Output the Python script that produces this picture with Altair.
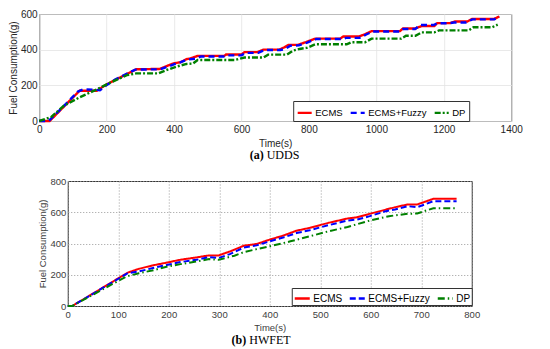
import altair as alt
import pandas as pd

series = ["ECMS", "ECMS+Fuzzy", "DP"]
colors = ["#ff0000", "#0000ff", "#008000"]

# ---- (a) UDDS ----
udds_ecms_t = [0, 31, 120, 171, 199, 222, 288, 358, 381, 400, 419, 437, 447, 470, 549, 554, 600, 609, 647,
               665, 712, 726, 740, 767, 791, 819, 893, 902, 949, 967, 986, 1070, 1079, 1116, 1135, 1172,
               1181, 1219, 1233, 1270, 1284, 1349, 1365]
udds_ecms_v = [0, 0, 170, 170, 204, 227, 290, 292, 310, 324, 329, 347, 350, 365, 365, 373, 373, 386, 386,
               400, 400, 412, 427, 427, 442, 462, 462, 474, 474, 487, 504, 504, 519, 519, 533, 533,
               549, 549, 558, 558, 572, 572, 586]
udds_fuzzy_t = [0, 28, 80, 115, 130, 165, 180, 199, 225, 285, 360, 385, 405, 420, 440, 465, 480, 550, 560,
                600, 612, 650, 668, 715, 730, 745, 770, 795, 822, 900, 910, 950, 970, 990, 1070, 1080,
                1115, 1130, 1170, 1180, 1215, 1230, 1265, 1285, 1350, 1365]
udds_fuzzy_v = [0, 0, 97, 165, 177, 176, 172, 200, 232, 288, 290, 307, 322, 330, 345, 350, 362, 362, 368,
                368, 382, 382, 398, 398, 404, 422, 424, 440, 460, 460, 466, 466, 485, 502, 502, 516,
                516, 538, 538, 548, 548, 552, 552, 570, 570, 584]
udds_dp_t = [0, 36, 73, 120, 166, 204, 260, 288, 353, 381, 409, 437, 456, 470, 581, 609, 665, 679, 735,
             753, 772, 795, 819, 912, 926, 967, 986, 1074, 1088, 1116, 1135, 1172, 1186, 1274, 1288,
             1344, 1360]
udds_dp_v = [0, 23, 85, 133, 173, 209, 257, 267, 267, 288, 306, 320, 322, 342, 342, 356, 356, 372, 372,
             395, 404, 411, 430, 430, 442, 442, 462, 462, 478, 478, 497, 497, 508, 508, 526,
             526, 540]

# ---- (b) HWFET ----
hw_ecms_t = [0, 9, 119, 141, 167, 198, 223, 255, 280, 299, 321, 349, 374, 400, 428, 453, 479, 516, 554,
             573, 598, 630, 648, 673, 692, 724, 770]
hw_ecms_v = [0, 0, 214, 238, 259, 279, 296, 311, 324, 324, 349, 386, 397, 425, 452, 482, 500, 532, 560,
             568, 590, 617, 632, 650, 650, 686, 686]
hw_fuzzy_t = [0, 9, 113, 119, 141, 167, 198, 223, 255, 280, 299, 321, 349, 374, 400, 428, 453, 479, 516,
              554, 573, 598, 630, 648, 673, 692, 724, 770]
hw_fuzzy_v = [0, 0, 199, 210, 221, 242, 264, 281, 296, 313, 307, 332, 375, 388, 414, 440, 467, 485, 517,
              547, 553, 575, 607, 618, 639, 632, 671, 671]
hw_dp_t = [0, 9, 116, 141, 167, 198, 223, 255, 280, 299, 330, 349, 374, 400, 441, 479, 516, 554, 598,
           636, 673, 692, 724, 770]
hw_dp_v = [0, 0, 189, 210, 227, 253, 268, 285, 300, 296, 322, 345, 364, 382, 414, 446, 478, 506, 547,
           575, 590, 592, 626, 626]

udds_x_ticks = [0, 200, 400, 600, 800, 1000, 1200, 1400]
udds_y_ticks = [0, 200, 400, 600]
hw_x_ticks = [0, 100, 200, 300, 400, 500, 600, 700, 800]
hw_y_ticks = [0, 200, 400, 600, 800]

cap_a = ["(a)", "UDDS"]
cap_b = ["(b)", "HWFET"]


def frame(pairs):
    rows = []
    for name, ts, vs in pairs:
        for t, v in zip(ts, vs):
            rows.append({"t": t, "v": v, "s": name})
    return pd.DataFrame(rows)


udds = frame([("ECMS", udds_ecms_t, udds_ecms_v), ("ECMS+Fuzzy", udds_fuzzy_t, udds_fuzzy_v),
              ("DP", udds_dp_t, udds_dp_v)])
hwfet = frame([("ECMS", hw_ecms_t, hw_ecms_v), ("ECMS+Fuzzy", hw_fuzzy_t, hw_fuzzy_v),
               ("DP", hw_dp_t, hw_dp_v)])

SANS = "Liberation Sans"
SERIF = "Liberation Serif"


def legend(font_size, lx, ly, pad, sym):
    return alt.Legend(orient="none", legendX=lx, legendY=ly, direction="horizontal", title=None,
                      padding=pad, strokeColor="#333333", fillColor="white", symbolType="stroke",
                      symbolSize=sym, symbolStrokeWidth=2.4, labelFont=SANS, labelFontSize=font_size,
                      labelColor="black", columnPadding=2, labelOffset=2, cornerRadius=0)


def panel(df, xmax, ymax, xticks, yticks, w, h, grid_dash, grid_color, dashes, sw, lab_color, fs,
          tfs, cap, cap_split, cap_dy, leg, right_pad=None):
    lg = legend(*leg)
    base = alt.Chart(df).mark_line(strokeWidth=sw, strokeCap="butt").encode(
        x=alt.X("t:Q", scale=alt.Scale(domain=[0, xmax], nice=False),
                axis=alt.Axis(title="Time(s)", values=xticks, format="d", labelFlush=False,
                              labelOverlap=False, grid=True, gridDash=grid_dash, gridColor=grid_color,
                              ticks=False, domain=False, labelFont=SANS, labelFontSize=fs,
                              labelColor=lab_color, titleFont=SANS, titleFontSize=tfs,
                              titleColor=lab_color, titleFontWeight="normal", labelPadding=3,
                              titlePadding=4)),
        y=alt.Y("v:Q", scale=alt.Scale(domain=[0, ymax], nice=False),
                axis=alt.Axis(title="Fuel Consumption(g)", values=yticks, format="d", labelOverlap=False,
                              grid=True, gridDash=grid_dash, gridColor=grid_color, ticks=False,
                              domain=False, labelFont=SANS, labelFontSize=fs, labelColor=lab_color,
                              titleFont=SANS, titleFontSize=tfs, titleColor=lab_color,
                              titleFontWeight="normal", labelPadding=2, titlePadding=2)),
        color=alt.Color("s:N", scale=alt.Scale(domain=series, range=colors), legend=lg),
        strokeDash=alt.StrokeDash("s:N", scale=alt.Scale(domain=series, range=dashes), legend=lg),
    )
    c1 = alt.Chart(pd.DataFrame({"txt": [cap[0]]})).mark_text(
        font=SERIF, fontSize=12, fontWeight="bold", align="right", baseline="middle", color="black"
    ).encode(text="txt:N", x=alt.value(cap_split - 1.5), y=alt.value(h + cap_dy))
    c2 = alt.Chart(pd.DataFrame({"txt": [cap[1]]})).mark_text(
        font=SERIF, fontSize=12, align="left", baseline="middle", color="black"
    ).encode(text="txt:N", x=alt.value(cap_split + 1.5), y=alt.value(h + cap_dy))
    layers = [base, c1, c2]
    if right_pad is not None:
        # invisible element that reserves blank room at the right of the panel
        layers.append(alt.Chart(pd.DataFrame({"a": [0]})).mark_rule(opacity=0).encode(
            x=alt.value(w + right_pad), y=alt.value(0), y2=alt.value(4)))
    return alt.layer(*layers).properties(
        width=w, height=h, view=alt.ViewBackground(stroke="#333333", strokeWidth=1, fill="white"))


TW, TH = 472, 107
BW, BH = 404, 125
top = panel(udds, 1400, 600, udds_x_ticks, udds_y_ticks, TW, TH, [1, 0], "#e3e3e3",
            [[1, 0], [6, 4], [6, 2, 2, 2]], 2.4, "#262626", 10, 10, cap_a, 226, 34,
            (9.5, TW - 218, TH - 20, 3, 196))
bottom = panel(hwfet, 800, 800, hw_x_ticks, hw_y_ticks, BW, BH, [1, 2], "#9a9a9a",
               [[1, 0], [6, 3], [7, 3, 1.5, 3]], 2.0, "#404040", 9.5, 9.5, cap_b, 180, 34,
               (10, BW - 180, BH - 18, 1.5, 225), right_pad=22)

chart = alt.vconcat(top, bottom, spacing=13, center=True).resolve_scale(
    x="independent", y="independent", color="independent", strokeDash="independent"
).properties(padding=0, background="white")

chart.save("out.html", embed_options={"renderer": "svg", "actions": False})
